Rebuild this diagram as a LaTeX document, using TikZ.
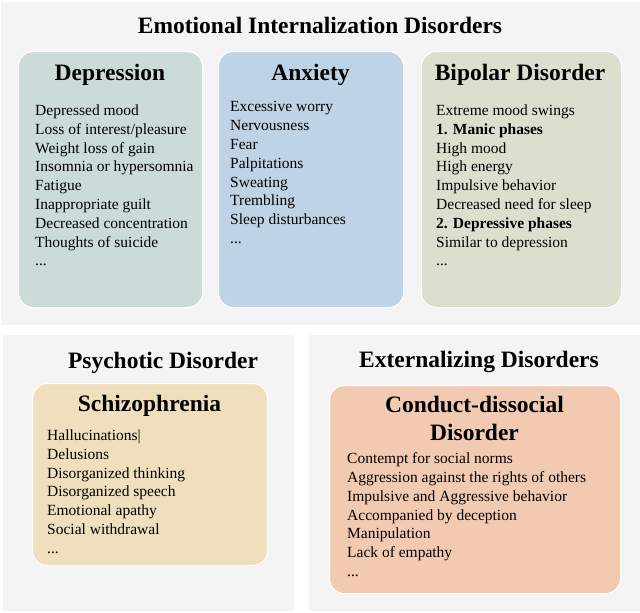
\documentclass[tikz,border=0pt]{standalone}
\usepackage{fontspec}
\setmainfont{Liberation Serif}
\usepackage{xcolor}
\usepackage{tikz}
\usetikzlibrary{positioning}
\definecolor{panelgray}{HTML}{F4F4F4}
\definecolor{depfill}{HTML}{CBDCD8}
\definecolor{anxfill}{HTML}{BED3E6}
\definecolor{bipfill}{HTML}{DCDECE}
\definecolor{schfill}{HTML}{F0DFBC}
\definecolor{cndfill}{HTML}{F2CAB2}
\tikzset{
  panel/.style={fill=panelgray, draw=none, inner sep=0pt, outer sep=0pt, anchor=north west},
  card/.style={draw=white, line width=1pt, rounded corners=15pt, inner sep=0pt, anchor=north west},
  grouptitle/.style={font=\fontsize{23.5}{28}\selectfont\bfseries, inner sep=0pt, anchor=base},
  cardhead/.style={font=\fontsize{23.5}{28}\selectfont\bfseries, inner sep=0pt, anchor=base, align=center},
  symptoms/.style={font=\fontsize{15.5}{18.8}\selectfont, inner sep=0pt, anchor=north west, align=left},
}

\begin{document}
\begin{tikzpicture}[x=1pt, y=-1pt]
  \useasboundingbox[fill=white] (0,0) rectangle (640,613);

  \node[panel, minimum width=639pt, minimum height=323pt] (ptop) at (1,2) {};
  \node[panel, minimum width=291pt, minimum height=276pt] (pleft) at (3,335) {};
  \node[panel, minimum width=331pt, minimum height=276pt] (pright) at (309,335) {};

  \node[grouptitle] (tint) at (320,33) {Emotional Internalization Disorders};
  \node[grouptitle] (tpsy) at (163,368) {Psychotic Disorder};
  \node[grouptitle] (text) at (479,367) {Externalizing Disorders};

  \node[card, fill=depfill, minimum width=184pt, minimum height=256pt] (dep) at (18,51) {};
  \node[card, fill=anxfill, minimum width=185pt, minimum height=256pt] (anx) at (218,51) {};
  \node[card, fill=bipfill, minimum width=200pt, minimum height=256pt] (bip) at (421,51) {};
  \node[card, fill=schfill, minimum width=235pt, minimum height=182pt] (sch) at (32,383) {};
  \node[card, fill=cndfill, minimum width=291pt, minimum height=208pt] (cnd) at (329,385) {};

  \node[cardhead] (hdep) at (110,80) {Depression};
  \node[cardhead] (hanx) at (310.5,80) {Anxiety};
  \node[cardhead] (hbip) at (520,80) {Bipolar Disorder};
  \node[cardhead] (hsch) at (149.5,411) {Schizophrenia};
  \node[cardhead] (hcnd) at (474.5,440) {Conduct-dissocial\\Disorder};

  \node[symptoms] (ldep) at (35,104.5) {Depressed mood\\Loss of interest/pleasure\\Weight loss of gain\\Insomnia or hypersomnia\\Fatigue\\Inappropriate guilt\\Decreased concentration\\Thoughts of suicide\\...};
  \node[symptoms] (lanx) at (230,101.5) {Excessive worry\\Nervousness\\Fear\\Palpitations\\Sweating\\Trembling\\Sleep disturbances\\...};
  \node[symptoms] (lbip) at (436,104.5) {Extreme mood swings\\\textbf{1. Manic phases}\\High mood\\High energy\\Impulsive behavior\\Decreased need for sleep\\\textbf{2. Depressive phases}\\Similar to depression\\...};
  \node[symptoms] (lsch) at (47,429.5) {Hallucinations|\\Delusions\\Disorganized thinking\\Disorganized speech\\Emotional apathy\\Social withdrawal\\...};
  \node[symptoms] (lcnd) at (347,452.5) {Contempt for social norms\\Aggression against the rights of others\\Impulsive and Aggressive behavior\\Accompanied by deception\\Manipulation\\Lack of empathy\\...};
\end{tikzpicture}
\end{document}
